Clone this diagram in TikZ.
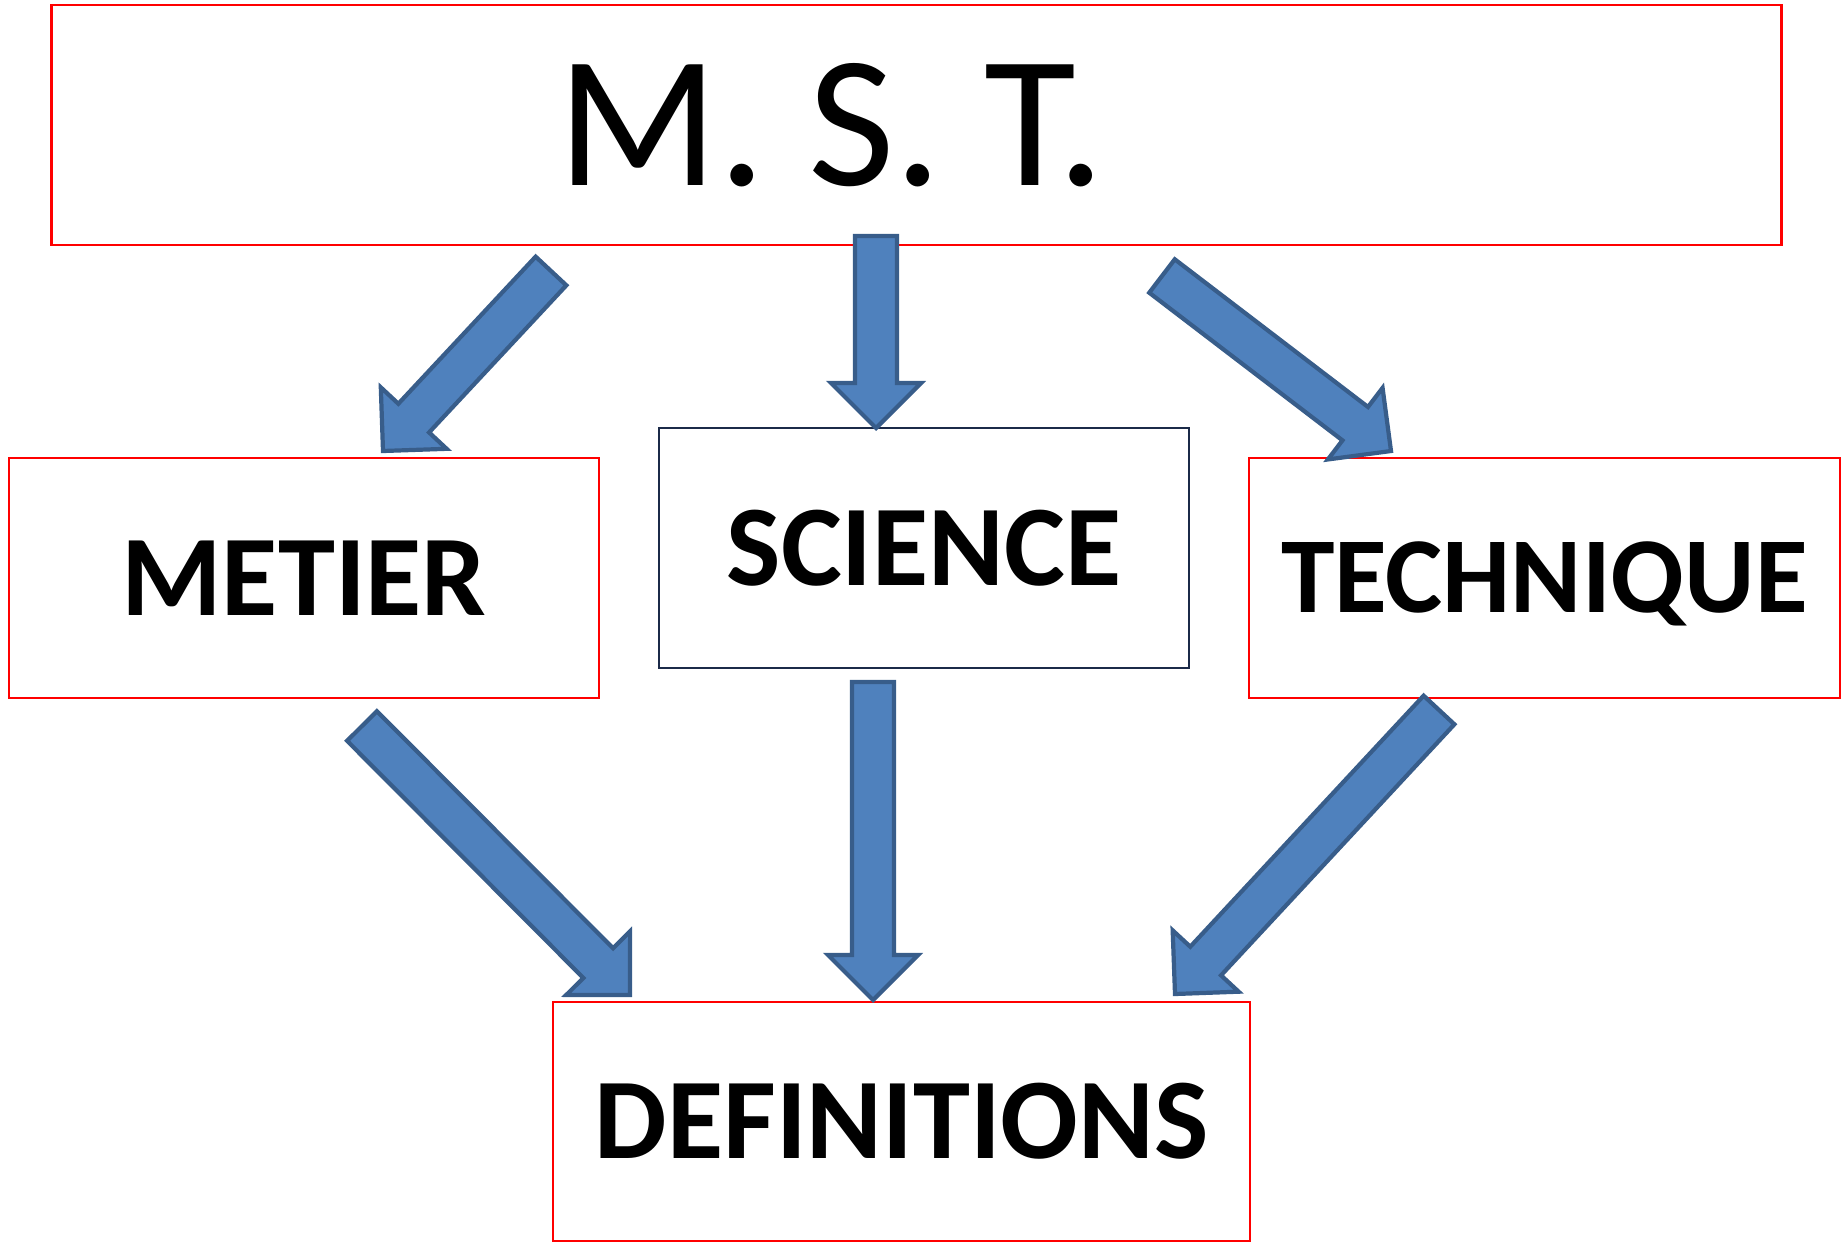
\documentclass[tikz,border=0pt]{standalone}
\usepackage{fontspec}
\setmainfont{Carlito}
\usetikzlibrary{calc}
\definecolor{boxred}{HTML}{FF0000}
\definecolor{boxnavy}{HTML}{1B2A48}
\definecolor{arrfill}{HTML}{4F81BD}
\definecolor{arrline}{HTML}{385D8A}

\begin{document}
\begin{tikzpicture}[
    x=0.01cm, y=-0.01cm,
    box/.style={draw=boxred, line width=0.6pt, minimum width=5.9cm, minimum height=2.4cm,
        inner sep=0pt, text height=0.74cm, text depth=0pt,
        font=\bfseries\fontsize{32.7}{36}\selectfont},
    blk/.style={fill=arrfill, draw=arrline, line width=1.2pt, line join=miter},
]
\def\blockarrow#1#2{
    \coordinate (hb) at ($(#2)!0.45cm!(#1)$);
    \draw[blk] ($(#1)!0.21cm!90:(#2)$) -- ($(hb)!0.21cm!90:(#2)$) -- ($(hb)!0.45cm!90:(#2)$)
        -- (#2) -- ($(hb)!0.45cm!-90:(#2)$) -- ($(hb)!0.21cm!-90:(#2)$)
        -- ($(#1)!0.21cm!-90:(#2)$) -- cycle;
}
\useasboundingbox (0,0) rectangle (1842,1242);

% ================================================================ boxes
\node[box, minimum width=17.29cm, text height=1.2cm, font=\fontsize{53.5}{60}\selectfont]
    (mst) at (916.5,125.3) {M. S. T.\hspace*{1.7cm}};
\node[box] (metier) at (304,578) {METIER};
\node[box, draw=boxnavy, line width=0.75pt, minimum width=5.3cm] (science) at (924,548) {SCIENCE};
\node[box, text height=0.69cm, font=\bfseries\fontsize{30.7}{34}\selectfont]
    (technique) at (1544.5,578) {TECHNIQUE};
\node[box, minimum width=6.96cm, minimum height=2.39cm] (definitions) at (901.6,1121.5) {DEFINITIONS};

% ================================================================ arrow ends
\coordinate (s1) at (551,271);  \coordinate (e1) at (383,451);
\coordinate (s2) at (876,236);  \coordinate (e2) at (876,428);
\coordinate (s3) at (1162,276); \coordinate (e3) at (1391,451);
\coordinate (s4) at (362,726);  \coordinate (e4) at (630,995);
\coordinate (s5) at (873,682);  \coordinate (e5) at (873,1000);
\coordinate (s6) at (1439,710); \coordinate (e6) at (1175,994);

% ================================================================ block arrows
\foreach \n in {1,...,6}{ \blockarrow{s\n}{e\n} }
\end{tikzpicture}
\end{document}
